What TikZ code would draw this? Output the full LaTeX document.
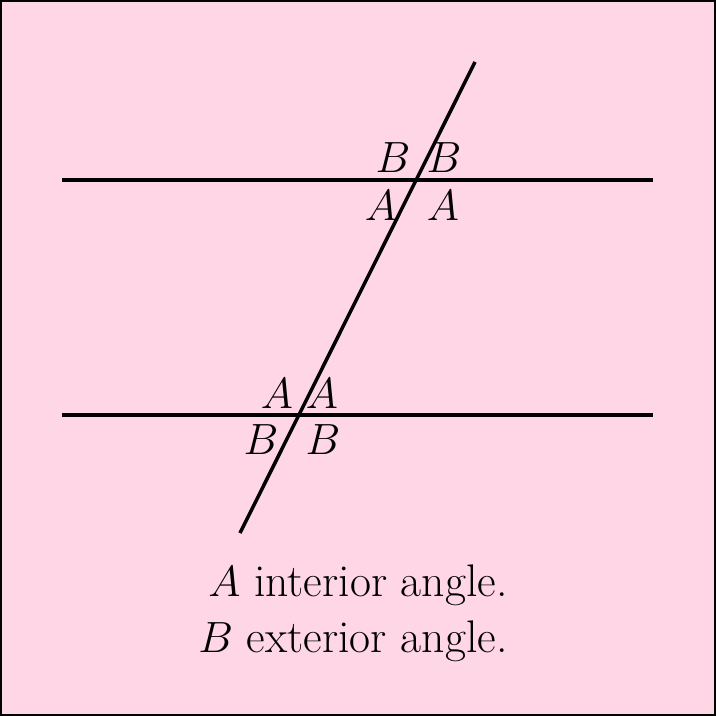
\documentclass[tikz,border=0pt]{standalone}
\usepackage{fontspec}
\usepackage{graphicx}
\definecolor{bgpink}{RGB}{255,214,230}
\newcommand{\bigmath}[1]{{\fontsize{20}{24}\selectfont\scalebox{1.2}{$#1$}}}
\begin{document}
\begin{tikzpicture}[x=0.02cm,y=-0.02cm,
  thick line/.style={line width=0.07cm,line cap=butt},
  lbl/.style={inner sep=0pt},
  caption/.style={inner sep=0pt,anchor=base,font=\fontsize{26}{30}\selectfont}]
\useasboundingbox (0,0) rectangle (716,716);
\fill[bgpink] (0,0) rectangle (716,716);
\draw[line width=0.04cm] (1,1) rectangle (715,715);
% coordinates
\coordinate (t1) at (62,180);
\coordinate (t2) at (653,180);
\coordinate (b1) at (62,415);
\coordinate (b2) at (653,415);
\coordinate (s1) at (240,533);
\coordinate (s2) at (475,62);
\draw[thick line] (t1) -- (t2);
\draw[thick line] (b1) -- (b2);
\draw[thick line] (s1) -- (s2);
% labels top
\node[lbl] (tb1) at (393,158) {\bigmath{B}};
\node[lbl] (tb2) at (444,158) {\bigmath{B}};
\node[lbl] (ta1) at (381,206) {\bigmath{A}};
\node[lbl] (ta2) at (443,206) {\bigmath{A}};
% labels bottom
\node[lbl] (ba1) at (277,394) {\bigmath{A}};
\node[lbl] (ba2) at (322,394) {\bigmath{A}};
\node[lbl] (bb1) at (261,440) {\bigmath{B}};
\node[lbl] (bb2) at (323,440) {\bigmath{B}};
% caption
\node[caption] (c1) at (358,596) {\bigmath{A} interior angle.};
\node[caption] (c2) at (353,652) {\bigmath{B} exterior angle.};
\end{tikzpicture}
\end{document}
